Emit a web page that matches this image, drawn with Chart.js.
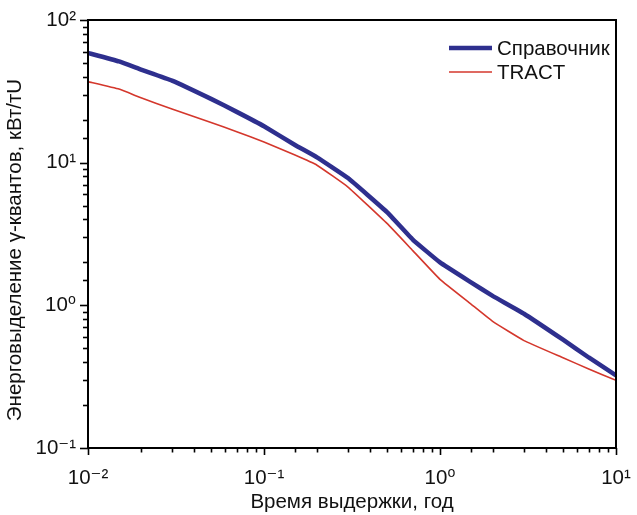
<!DOCTYPE html>
<html>
<head>
<meta charset="utf-8">
<script src="https://cdn.jsdelivr.net/npm/chart.js@4/dist/chart.umd.min.js"></script>
<style>
  html, body { margin: 0; padding: 0; background: #fff; }
  #wrap { width: 637px; height: 515px; }
</style>
</head>
<body>
<div id="wrap"><canvas id="c" width="637" height="515"></canvas></div>
<script>
// ---- data ----
const timeYears = [0.01, 0.015, 0.02, 0.03, 0.05, 0.07, 0.1, 0.15, 0.2, 0.3, 0.5, 0.7, 1, 1.5, 2, 3, 5, 7, 10];
const refValues = [58.7, 51.2, 44.9, 37.6, 28.0, 22.7, 18.0, 13.3, 10.9, 7.8, 4.5, 2.89, 2.0, 1.45, 1.16, 0.873, 0.574, 0.431, 0.323];
const tractValues = [37.0, 32.8, 28.5, 23.8, 19.1, 16.5, 13.95, 11.3, 9.6, 6.75, 3.75, 2.42, 1.52, 1.02, 0.768, 0.566, 0.429, 0.358, 0.298];
const seriesNames = ['Справочник', 'TRACT'];
const xTitle = 'Время выдержки, год';
const yTitle = 'Энерговыделение γ-квантов, кВт/тU';
const xRange = [0.01, 10];
const yRange = [0.1, 100];
const supers = {'-':'⁻','0':'⁰','1':'¹','2':'²','3':'³','4':'⁴','5':'⁵','6':'⁶','7':'⁷','8':'⁸','9':'⁹'};

const FONT = "'Liberation Sans', Arial, 'DejaVu Sans', sans-serif";
const FS = 20.5;
const BLUE = '#2e2f8e';
const RED = '#d4372c';

function powLabel(v) {
  const e = Math.log10(v);
  const r = Math.round(e);
  if (Math.abs(e - r) > 1e-9) return '';
  return '10' + String(r).split('').map(ch => supers[ch]).join('');
}

const framePlugin = {
  id: 'frame',
  afterDraw(chart) {
    const ctx = chart.ctx;
    const a = chart.chartArea;
    ctx.save();
    ctx.strokeStyle = '#000';
    ctx.lineWidth = 2;
    ctx.strokeRect(a.left, a.top, a.right - a.left, a.bottom - a.top);
    // tick marks
    ctx.lineWidth = 1.6;
    const xs = chart.scales.x, ys = chart.scales.y;
    xs.ticks.forEach(t => {
      const p = Math.round(xs.getPixelForValue(t.value)) + 0.5;
      const major = powLabel(t.value) !== '';
      ctx.beginPath();
      ctx.moveTo(p, a.bottom);
      ctx.lineTo(p, a.bottom + (major ? 7 : 4.5));
      ctx.stroke();
    });
    ys.ticks.forEach(t => {
      const p = Math.round(ys.getPixelForValue(t.value)) + 0.5;
      const major = powLabel(t.value) !== '';
      ctx.beginPath();
      ctx.moveTo(a.left, p);
      ctx.lineTo(a.left - (major ? 8 : 5), p);
      ctx.stroke();
    });
    // y-axis title
    ctx.fillStyle = '#111';
    ctx.font = FS + 'px ' + FONT;
    ctx.textAlign = 'center';
    ctx.textBaseline = 'middle';
    ctx.save();
    ctx.translate(15, 250);
    ctx.rotate(-Math.PI / 2);
    ctx.fillText(yTitle, 0, 0);
    ctx.restore();
    // legend
    const ds = chart.data.datasets;
    const rows = [48, 72];
    ds.forEach((d, i) => {
      const y = rows[i];
      ctx.strokeStyle = d.borderColor;
      ctx.lineWidth = d.borderWidth;
      ctx.beginPath();
      ctx.moveTo(449, y);
      ctx.lineTo(492, y);
      ctx.stroke();
      ctx.fillStyle = '#111';
      ctx.font = FS + 'px ' + FONT;
      ctx.textBaseline = 'middle';
      ctx.textAlign = 'left';
      ctx.fillText(d.label, 497, y + 1);
    });
    ctx.restore();
  }
};

new Chart(document.getElementById('c'), {
  type: 'line',
  data: {
    datasets: [
      {
        label: seriesNames[0],
        data: timeYears.map((x, i) => ({x: x, y: refValues[i]})),
        borderColor: BLUE,
        borderWidth: 4.5,
        pointRadius: 0,
        tension: 0.1,
        fill: false
      },
      {
        label: seriesNames[1],
        data: timeYears.map((x, i) => ({x: x, y: tractValues[i]})),
        borderColor: RED,
        borderWidth: 1.6,
        pointRadius: 0,
        tension: 0.1,
        fill: false
      }
    ]
  },
  options: {
    responsive: false,
    animation: false,
    devicePixelRatio: 1,
    layout: { padding: { top: 20, right: 21, left: 0, bottom: 0 } },
    plugins: { legend: { display: false }, tooltip: { enabled: false } },
    scales: {
      x: {
        type: 'logarithmic',
        position: 'bottom',
        min: xRange[0], max: xRange[1],
        grid: { display: false },
        border: { display: false },
        ticks: {
          autoSkip: false, maxRotation: 0, minRotation: 0,
          color: '#111', padding: 10,
          font: { family: FONT, size: FS },
          callback: (v) => powLabel(v)
        },
        title: {
          display: true, text: xTitle, color: '#111',
          font: { family: FONT, size: FS },
          padding: { top: 0, bottom: 0 }
        },
        afterFit(s) { s.height = 67; s.paddingLeft = 0; s.paddingRight = 0; }
      },
      y: {
        type: 'logarithmic',
        position: 'left',
        min: yRange[0], max: yRange[1],
        grid: { display: false },
        border: { display: false },
        ticks: {
          autoSkip: false,
          color: '#111', padding: 4,
          font: { family: FONT, size: FS },
          callback: (v) => powLabel(v)
        },
        title: { display: false, text: yTitle },
        afterFit(s) { s.width = 88; s.paddingTop = 0; s.paddingBottom = 0; }
      }
    }
  },
  plugins: [framePlugin]
});
</script>
</body>
</html>
